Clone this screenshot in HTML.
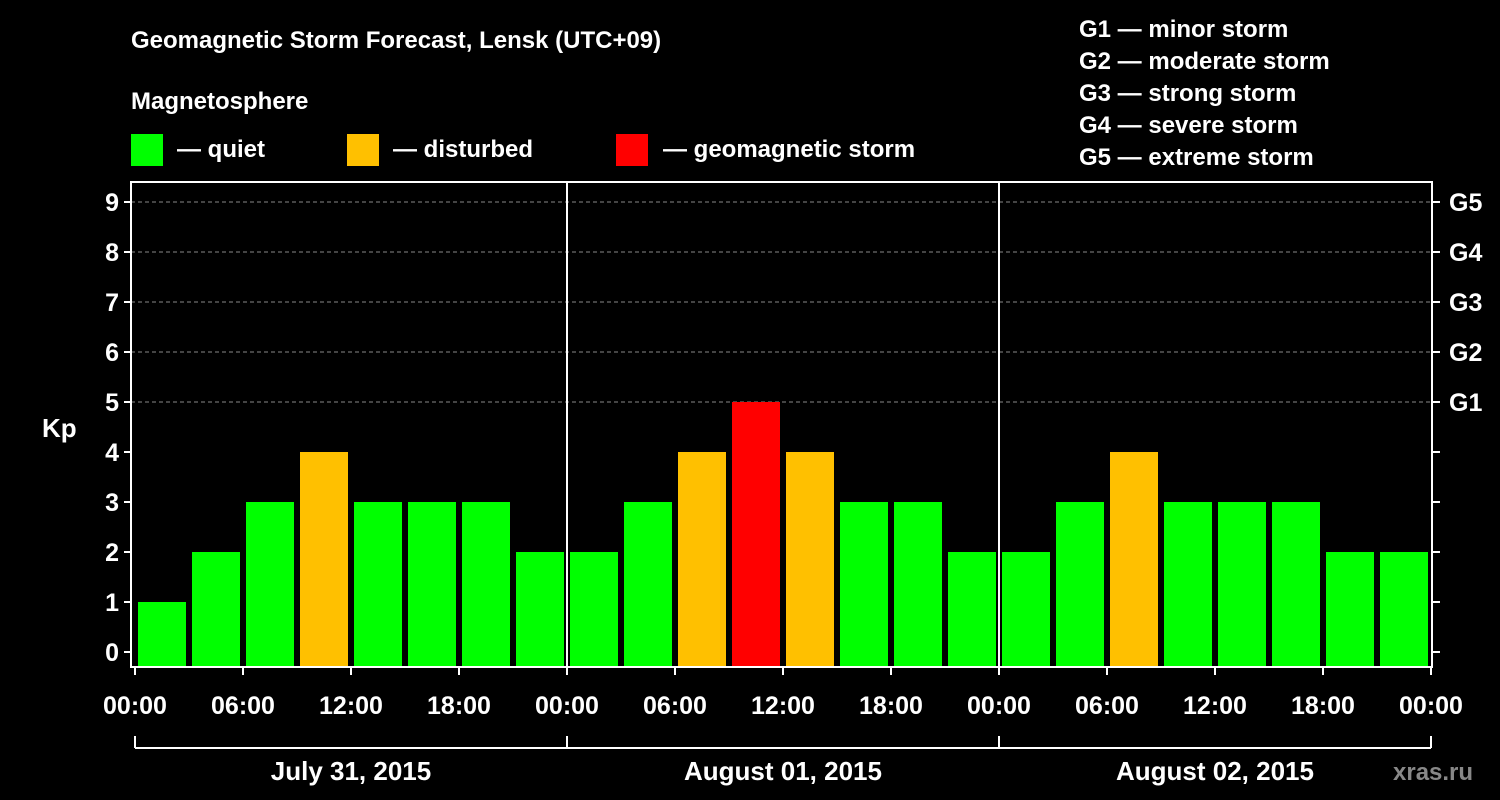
<!DOCTYPE html>
<html><head><meta charset="utf-8"><style>
html,body{margin:0;padding:0;background:#000;}
svg{display:block;font-family:"Liberation Sans",Arial,sans-serif;font-weight:bold;}
</style></head><body>
<svg id="chart" width="1500" height="800" viewBox="0 0 1500 800">
<rect width="1500" height="800" fill="#000"/>
<text x="131" y="48" fill="#fff" font-size="24">Geomagnetic Storm Forecast, Lensk (UTC+09)</text>
<text x="131" y="109" fill="#fff" font-size="24">Magnetosphere</text>
<g><rect x="131" y="134" width="32" height="32" fill="#00ff00"/><text x="177" y="157" fill="#fff" font-size="24">— quiet</text></g>
<g><rect x="347" y="134" width="32" height="32" fill="#ffc000"/><text x="393" y="157" fill="#fff" font-size="24">— disturbed</text></g>
<g><rect x="616" y="134" width="32" height="32" fill="#ff0000"/><text x="663" y="157" fill="#fff" font-size="24">— geomagnetic storm</text></g>
<g fill="#fff" font-size="24">
<text x="1079" y="37">G1 — minor storm</text>
<text x="1079" y="69">G2 — moderate storm</text>
<text x="1079" y="101">G3 — strong storm</text>
<text x="1079" y="133">G4 — severe storm</text>
<text x="1079" y="165">G5 — extreme storm</text>
</g>
<text x="42" y="437" fill="#fff" font-size="26">Kp</text>
<text x="1393" y="780" fill="#888" font-size="24">xras.ru</text>
<g id="grid"></g><g id="bars"></g><g id="axes"></g>
</svg>
<script>
const days = ["July 31, 2015","August 01, 2015","August 02, 2015"];
const kpValues = [1,2,3,4,3,3,3,2, 2,3,4,5,4,3,3,2, 2,3,4,3,3,3,2,2];
const yTicks = [0,1,2,3,4,5,6,7,8,9];
const gLabels = ["G1","G2","G3","G4","G5"];
const timeLabels = ["00:00","06:00","12:00","18:00"];
const NS="http://www.w3.org/2000/svg";
const X0=135, DAYW=432, Y0=652, UNIT=50, PB=667, PT=182, PL=131, PR=1432;
const xs=h=>X0+h*DAYW/24;
const ys=v=>Y0-v*UNIT;
function mk(tag,attrs,parent){const e=document.createElementNS(NS,tag);for(const k in attrs)e.setAttribute(k,attrs[k]);parent.appendChild(e);return e;}
const grid=document.getElementById('grid'),bars=document.getElementById('bars'),axes=document.getElementById('axes');
for(let v=5;v<=9;v++){const l=mk('line',{x1:PL,x2:PR,y1:ys(v),y2:ys(v),stroke:'#888','stroke-dasharray':'4,3','stroke-width':1},grid);

}
kpValues.forEach((v,i)=>{const c=v>=5?'#ff0000':(v>=4?'#ffc000':'#00ff00');
const r=mk('rect',{x:xs(i*3)+3,y:ys(v),width:48,height:PB-ys(v),fill:c},bars);

});
const f=mk('rect',{x:PL,y:PT,width:PR-PL,height:PB-PT,fill:'none',stroke:'#fff','stroke-width':2},axes);


for(let d=1;d<days.length;d++){const l=mk('line',{x1:xs(d*24),x2:xs(d*24),y1:PT,y2:PB,stroke:'#fff','stroke-width':2},axes);

}
yTicks.forEach(v=>{mk('line',{x1:PL-7,x2:PL,y1:ys(v),y2:ys(v),stroke:'#fff','stroke-width':2},axes);
mk('line',{x1:PR,x2:PR+8,y1:ys(v),y2:ys(v),stroke:'#fff','stroke-width':2},axes);
const t=mk('text',{x:PL-12,y:ys(v)+9,fill:'#fff','font-size':25,'text-anchor':'end'},axes);t.textContent=v;

});
gLabels.forEach((g,i)=>{const t=mk('text',{x:1449,y:ys(5+i)+9,fill:'#fff','font-size':25},axes);t.textContent=g;

});
for(let h=0;h<=72;h+=6){mk('line',{x1:xs(h),x2:xs(h),y1:PB,y2:PB+8,stroke:'#fff','stroke-width':2},axes);
const t=mk('text',{x:xs(h),y:714,fill:'#fff','font-size':25,'text-anchor':'middle'},axes);t.textContent=timeLabels[(h/6)%4];

}
const br=mk('line',{x1:xs(0),x2:xs(72),y1:748,y2:748,stroke:'#fff','stroke-width':2},axes);


for(let d=0;d<=days.length;d++)mk('line',{x1:xs(d*24),x2:xs(d*24),y1:736,y2:748,stroke:'#fff','stroke-width':2},axes);
days.forEach((d,i)=>{const t=mk('text',{x:xs(i*24+12),y:780,fill:'#fff','font-size':26,'text-anchor':'middle'},axes);t.textContent=d;

});
</script>
</body></html>
